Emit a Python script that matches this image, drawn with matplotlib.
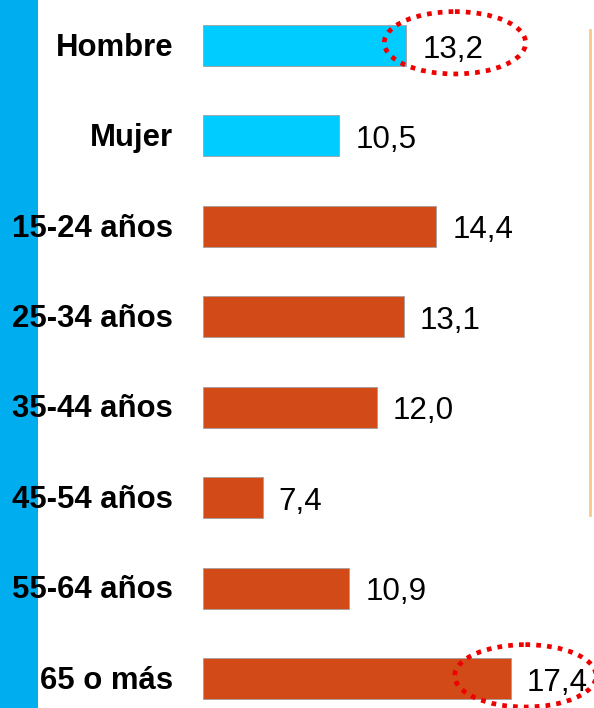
import matplotlib
matplotlib.use("Agg")
import matplotlib.pyplot as plt
from matplotlib.patches import Ellipse, Rectangle
from matplotlib.transforms import blended_transform_factory

# data
labels = ["Hombre", "Mujer", "15-24 años", "25-34 años", "35-44 años",
          "45-54 años", "55-64 años", "65 o más"]
values = [13.2, 10.5, 14.4, 13.1, 12.0, 7.4, 10.9, 17.4]
groups = ["sex", "sex", "age", "age", "age", "age", "age", "age"]
circled = ["Hombre", "65 o más"]

# palette
SEX = "#00CCFF"
AGE = "#D24A18"
STRIP = "#00AEEF"
LINE = "#FAC68C"
RING = "#EE0000"

W, H = 594, 708
fig = plt.figure(figsize=(W / 100, H / 100), dpi=100)
fig.patch.set_facecolor("white")

# blue strip on the left edge
fig.add_artist(Rectangle((0, 0), 38 / W, 1, transform=fig.transFigure,
                         facecolor=STRIP, edgecolor="none", zorder=0))
# thin orange divider on the right
fig.add_artist(plt.Line2D([590 / W, 590 / W], [1 - 30 / H, 1 - 515 / H],
                          transform=fig.transFigure, color=LINE, lw=2))

ax = fig.add_axes([203 / W, 0, 1 - 203 / W, 1])
ax.set_xlim(5, 5 + (W - 203) / 24.8)
ax.set_ylim(7.326, -0.503)
ax.axis("off")

ypos = list(range(len(labels)))
colors = [SEX if g == "sex" else AGE for g in groups]
ax.barh(ypos, [v - 5 for v in values], left=5, height=0.453, color=colors,
        edgecolor="#A0A0A0", linewidth=0.6, zorder=2)

# category labels: x in figure coords, y in data coords
lab_tr = blended_transform_factory(fig.transFigure, ax.transData)
for y, lab, v in zip(ypos, labels, values):
    fig.text(173 / W, y + 0.025, lab, ha="right", va="center", fontsize=22.4,
             fontweight="bold", family="Liberation Sans", transform=lab_tr)
    ax.text(v + 0.65, y + 0.045, f"{v:.1f}".replace(".", ","), ha="left",
            va="center", fontsize=22.6, family="Liberation Sans", zorder=4)

# dotted red rings around the highlighted values
offsets = {"Hombre": 1.96, "65 o más": 0.6}
for lab in circled:
    i = labels.index(lab)
    ax.add_patch(Ellipse((values[i] + offsets[lab], i - 0.03), 5.7, 0.69,
                         fill=False, edgecolor=RING, lw=3.4,
                         linestyle=(0, (1.0, 1.3)), clip_on=False, zorder=5))

fig.savefig("out.png", dpi=100, facecolor="white")
